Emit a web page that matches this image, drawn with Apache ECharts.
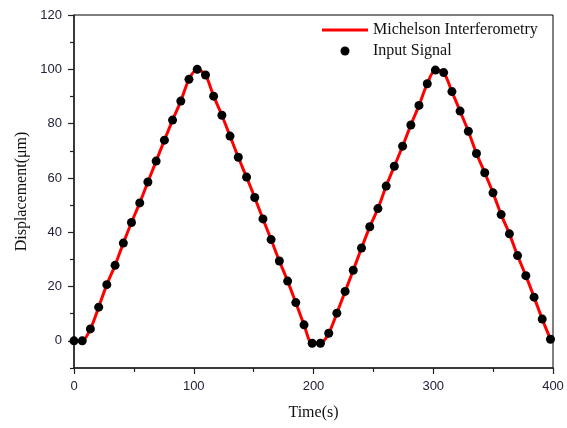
<!DOCTYPE html>
<html>
<head>
<meta charset="utf-8">
<script src="https://cdn.jsdelivr.net/npm/echarts@6/dist/echarts.min.js"></script>
<style>html,body{margin:0;padding:0;background:#fff}#c{width:567px;height:428px}</style>
</head>
<body>
<div id="c"></div>
<script>
// Time (s) of each sample
var times = [0, 6.9, 13.7, 20.6, 27.4, 34.3, 41.2, 48.0, 54.9, 61.7,
  68.6, 75.5, 82.3, 89.2, 96.0, 102.9, 109.8, 116.6, 123.5, 130.3,
  137.2, 144.1, 150.9, 157.8, 164.6, 171.5, 178.4, 185.2, 192.1, 198.9,
  205.8, 212.7, 219.5, 226.4, 233.2, 240.1, 247.0, 253.8, 260.7, 267.5,
  274.4, 281.3, 288.1, 295.0, 301.8, 308.7, 315.6, 322.4, 329.3, 336.1,
  343.0, 349.9, 356.7, 363.6, 370.4, 377.3, 384.2, 391.0, 397.9];
// Input signal displacement (um)
var inputSignal = [0, 0, 4.4, 12.4, 20.7, 27.8, 36.0, 43.6, 50.8, 58.5,
  66.2, 73.9, 81.3, 88.3, 96.3, 100, 97.9, 90.1, 83.1, 75.4,
  67.6, 60.3, 52.8, 44.9, 37.3, 29.4, 22.0, 14.1, 5.9, -0.9,
  -0.9, 2.8, 10.2, 18.2, 26.0, 34.2, 42.0, 48.7, 57.0, 64.3,
  71.7, 79.5, 86.7, 94.7, 99.7, 98.8, 91.8, 84.6, 77.2, 69.0,
  61.9, 54.5, 46.5, 39.4, 31.4, 24.0, 16.1, 8.0, 0.6];
// Michelson interferometry measurement (um), follows the input signal
var michelson = inputSignal.slice();

var xTicks = [0, 100, 200, 300, 400];
var yTicks = [0, 20, 40, 60, 80, 100, 120];
var yMinorTicks = [-10, 10, 30, 50, 70, 90, 110];

function pairs(xs, ys) { return xs.map(function (x, i) { return [x, ys[i]]; }); }

var labelFont = { fontFamily: 'Liberation Sans', fontSize: 13, color: '#22223a' };
var chart = echarts.init(document.getElementById('c'), null, { renderer: 'canvas' });
chart.setOption({
  animation: false,
  backgroundColor: '#fff',
  grid: { left: 74, right: 14, top: 15, bottom: 60, show: true, borderColor: '#000', borderWidth: 1 },
  legend: {
    orient: 'vertical', left: 322, top: 22, padding: 0,
    itemWidth: 46, itemHeight: 9, itemGap: 5,
    textStyle: { fontFamily: 'Liberation Serif', fontSize: 16, color: '#111', lineHeight: 16 },
    data: [
      { name: 'Michelson Interferometry', icon: 'path://M0,0L46,0L46,3L0,3Z' },
      { name: 'Input Signal', icon: 'circle' }
    ]
  },
  xAxis: [{
    type: 'value', min: 0, max: 400, interval: 100,
    name: 'Time(s)', nameLocation: 'middle', nameGap: 37,
    nameTextStyle: { fontFamily: 'Liberation Serif', fontSize: 16, color: '#111' },
    axisLine: { onZero: false, lineStyle: { color: '#222', width: 1.5 } },
    axisTick: { inside: false, length: 6, lineStyle: { color: '#222', width: 1.2 } },
    minorTick: { show: true, splitNumber: 2, length: 4, lineStyle: { color: '#222', width: 1.2 } },
    axisLabel: Object.assign({ margin: 12, customValues: xTicks }, labelFont),
    splitLine: { show: false }
  }],
  yAxis: [{
    type: 'value', min: -10, max: 120,
    name: 'Displacement(μm)', nameLocation: 'middle', nameGap: 44,
    nameTextStyle: { fontFamily: 'Liberation Serif', fontSize: 16, color: '#111' },
    axisLine: { onZero: false, lineStyle: { color: '#222', width: 1.5 } },
    axisTick: { inside: false, length: 6, customValues: yTicks, lineStyle: { color: '#222', width: 1.2 } },
    axisLabel: Object.assign({ margin: 12, customValues: yTicks }, labelFont),
    splitLine: { show: false }
  }, {
    type: 'value', min: -10, max: 120, position: 'left',
    axisLine: { show: false },
    axisTick: { show: true, inside: false, length: 4, customValues: yMinorTicks, lineStyle: { color: '#222', width: 1.2 } },
    axisLabel: { show: false },
    splitLine: { show: false }
  }],
  series: [{
    name: 'Michelson Interferometry', type: 'line', smooth: 0.3,
    symbol: 'none', data: pairs(times, michelson),
    lineStyle: { color: '#ff0000', width: 3 }, itemStyle: { color: '#ff0000' }, z: 2
  }, {
    name: 'Input Signal', type: 'scatter', symbol: 'circle', symbolSize: 9,
    data: pairs(times, inputSignal), itemStyle: { color: '#000', opacity: 1 }, clip: false, z: 3
  }]
});
</script>
</body>
</html>
